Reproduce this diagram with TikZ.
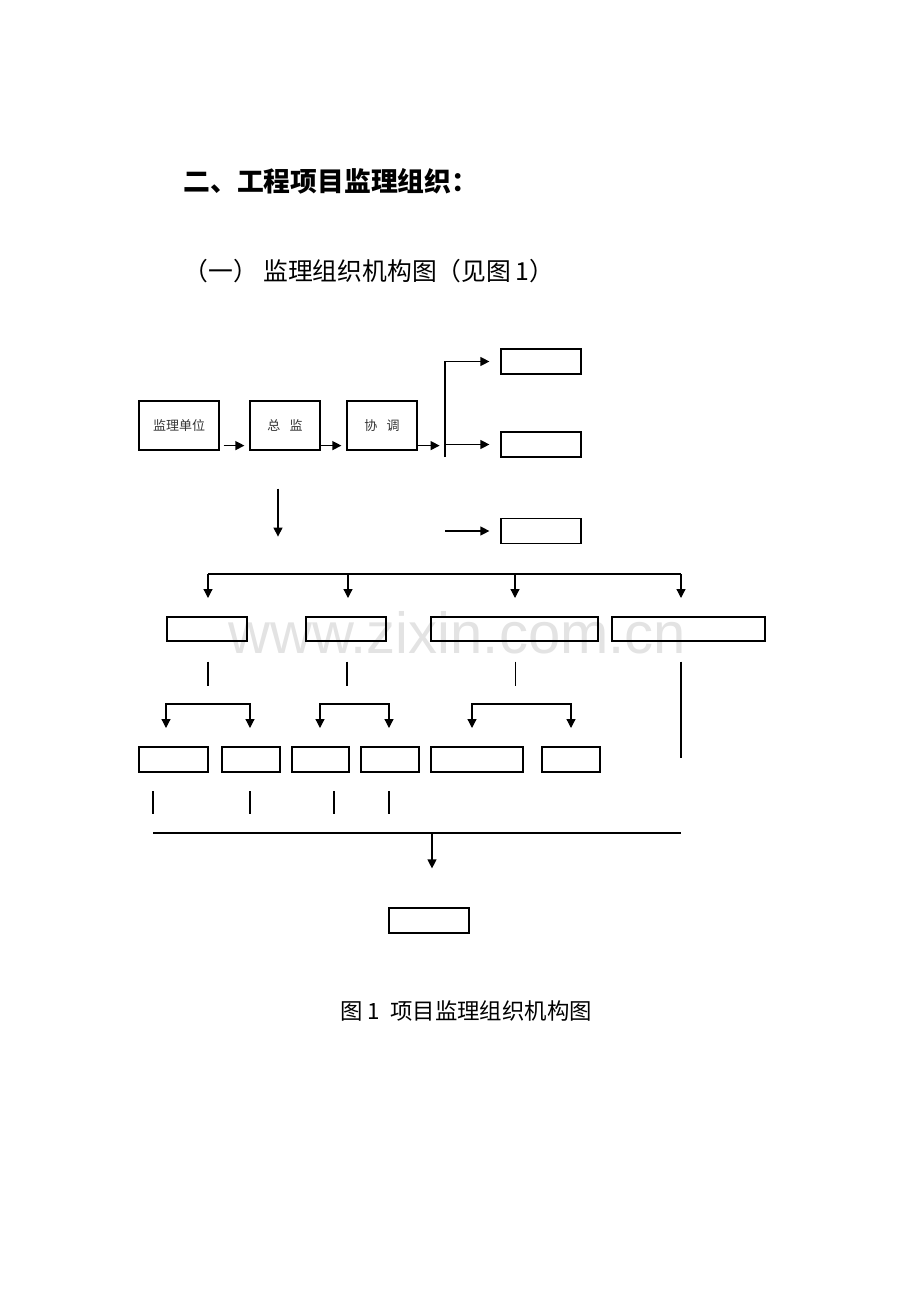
\documentclass[tikz,border=0pt]{standalone}
\usepackage{fontspec}
\newfontfamily\cjk{Noto Sans CJK SC}
\newfontfamily\wmfont{Liberation Sans}
\usetikzlibrary{arrows.meta}
\tikzset{
  unitbox/.style={draw, line width=0.6pt, inner sep=0pt, minimum height=12.5pt,
    font=\cjk\fontsize{6.5}{7}\selectfont, text=black!80},
  flow/.style={line width=0.6pt, -{Triangle[length=4.5pt,width=4.5pt]}},
  link/.style={line width=0.6pt},
}
\begin{document}
\begin{tikzpicture}[x=0.5pt,y=-0.5pt]
\useasboundingbox (0,0) rectangle (920,1302);
\node[anchor=base west, inner sep=0pt, text=black!11, font=\wmfont\fontsize{29}{29}\selectfont] (wm) at (228,653) {www.zixin.com.cn};
\node[anchor=west, inner sep=0pt, font=\cjk\bfseries\fontsize{13.4}{15}\selectfont] (title) at (183,181) {二、工程项目监理组织：};
\node[anchor=west, inner sep=0pt, font=\cjk\fontsize{12.4}{14}\selectfont] (subtitle) at (183,271) {（一） 监理组织机构图（见图\,1）};
% top row
\node[unitbox, minimum width=40pt, minimum height=24.5pt] (unit) at (179,425.5) {监理单位};
\node[unitbox, minimum width=35pt, minimum height=24.5pt] (chief) at (285,425.5) {总\hspace{0.7em}监};
\node[unitbox, minimum width=35pt, minimum height=24.5pt] (coord) at (382,425.5) {协\hspace{0.7em}调};
\node[unitbox, minimum width=40pt] (r1) at (541,361.5) {};
\node[unitbox, minimum width=40pt] (r2) at (541,444.5) {};
\node[unitbox, minimum width=40pt] (r3) at (541,531) {};
\draw[flow] ([shift={(4,-5)}]unit.south east) -- ([shift={(-5,-5)}]chief.south west);
\draw[flow] ([shift={(0,-5)}]chief.south east) -- ([shift={(-5,-5)}]coord.south west);
\draw[flow] ([shift={(0,-5)}]coord.south east) -- ([shift={(22,-5)}]coord.south east);
\coordinate (spine) at (445,457);
\draw[flow] (spine) |- ([xshift=-5.5pt]r1.west);
\draw[flow] (spine |- r2.west) -- ([xshift=-5.5pt]r2.west);
\draw[flow] (spine |- r3.west) -- ([xshift=-5.5pt]r3.west);
\draw[flow] ([shift={(-7,38)}]chief.south) -- ([shift={(-7,86)}]chief.south);
% second row
\node[unitbox, minimum width=40pt, minimum height=12pt] (div1) at (207,629) {};
\node[unitbox, minimum width=40pt, minimum height=12pt] (div2) at (346,629) {};
\node[unitbox, minimum width=83.5pt, minimum height=12pt] (div3) at (514.5,629) {};
\node[unitbox, minimum width=76.5pt, minimum height=12pt] (div4) at (688.5,629) {};
\draw[link] (208,574) -- (681,574);
\foreach \x in {208,348,515,681}
  \draw[flow] (\x,574) -- (\x,598);
\foreach \n in {1,2,3}
  \draw[link] ([shift={(1,20)}]div\n.south) -- ([shift={(1,44)}]div\n.south);
\draw[link] ([shift={(-7.5,20)}]div4.south) -- ([shift={(-7.5,116)}]div4.south);
% third row
\node[unitbox, minimum width=34.5pt] (sub1) at (173.5,759.5) {};
\node[unitbox, minimum width=29pt] (sub2) at (251,759.5) {};
\node[unitbox, minimum width=28.5pt] (sub3) at (320.5,759.5) {};
\node[unitbox, minimum width=29pt] (sub4) at (390,759.5) {};
\node[unitbox, minimum width=46pt] (sub5) at (477,759.5) {};
\node[unitbox, minimum width=29pt] (sub6) at (571,759.5) {};
\foreach \a/\b in {166/250,320/389,472/571}
  \draw[link, {Triangle[length=4.5pt,width=4.5pt]}-{Triangle[length=4.5pt,width=4.5pt]}] (\a,728) -- (\a,704) -- (\b,704) -- (\b,728);
\foreach \x in {153,250,334,389}
  \draw[link] (\x,791) -- (\x,814);
% bottom
\node[unitbox, minimum width=40pt] (final) at (429,920.5) {};
\draw[link] (153,833) -- (681,833);
\draw[flow] (final.north |- 0,833) ++(3,0) -- ([shift={(3,-39)}]final.north);
\node[anchor=west, inner sep=0pt, font=\cjk\fontsize{11.2}{13}\selectfont] (caption) at (340,1011) {图\ 1\ \ 项目监理组织机构图};
\end{tikzpicture}
\end{document}
